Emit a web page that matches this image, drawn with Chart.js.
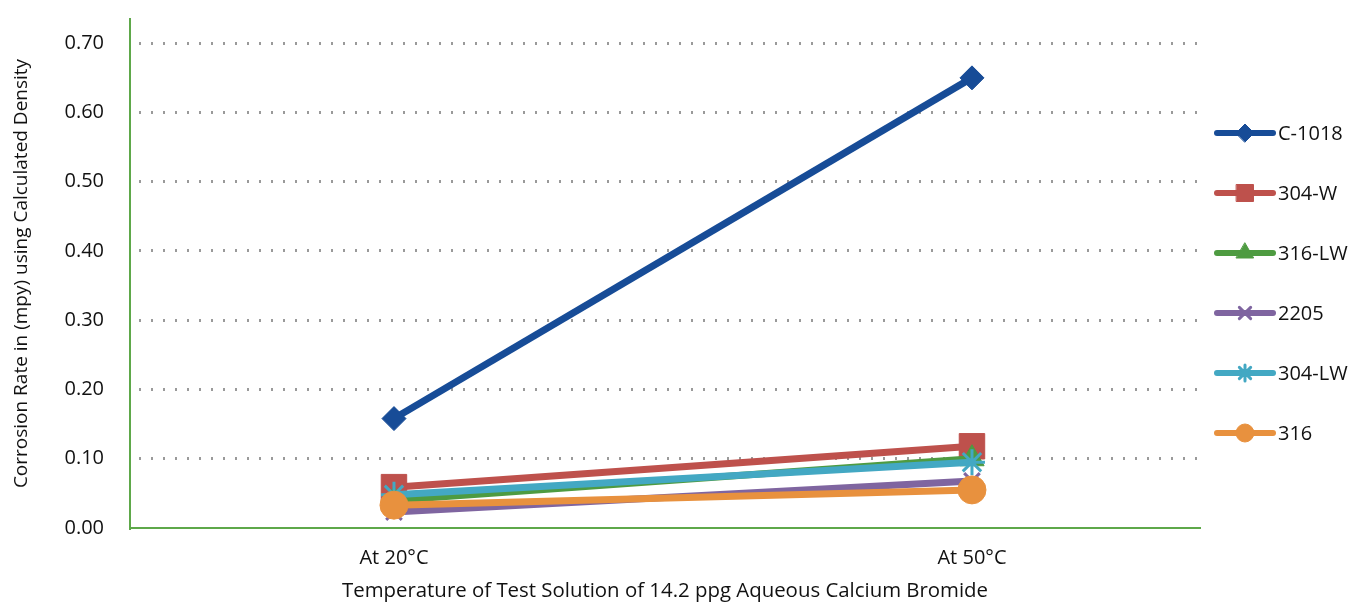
<!DOCTYPE html>
<html>
<head>
<meta charset="utf-8">
<script src="https://cdn.jsdelivr.net/npm/chart.js@4"></script>
<style>
html,body{margin:0;padding:0;background:#fff;}
#wrap{width:1366px;height:603px;position:relative;}
</style>
</head>
<body>
<div id="wrap"><canvas id="c" width="1366" height="603"></canvas></div>
<script>
const categories = ['At 20\u00B0C', 'At 50\u00B0C'];
const seriesNames = ['C-1018', '304-W', '316-LW', '2205', '304-LW', '316'];
const c1018 = [0.158, 0.650];
const w304 = [0.059, 0.118];
const lw316 = [0.040, 0.100];
const d2205 = [0.023, 0.068];
const lw304 = [0.048, 0.095];
const s316 = [0.033, 0.055];
const yTicks = [0, 0.1, 0.2, 0.3, 0.4, 0.5, 0.6, 0.7];

const seriesValues = [c1018, w304, lw316, d2205, lw304, s316];
const colors = ['#174C97', '#BE514C', '#4E9B41', '#7F65A0', '#43A8C3', '#E8913E'];
const styles = ['rectRot', 'rect', 'triangle', 'crossRot', 'star', 'circle'];
const radii = [12, 18, 14, 11, 13, 14];
const legRadii = [9, 12, 10, 8, 8, 9];

const FONT = '"Open Sans", "Noto Sans", sans-serif';

const datasets = seriesNames.map((name, i) => ({
  label: name,
  data: seriesValues[i].map((v, k) => ({x: k, y: v})),
  borderColor: colors[i],
  backgroundColor: colors[i],
  borderWidth: 7,
  pointStyle: styles[i],
  pointRadius: radii[i],
  pointHoverRadius: radii[i],
  pointBorderWidth: (styles[i] === 'crossRot' || styles[i] === 'star') ? 3 : 1,
  pointBorderColor: colors[i],
  pointBackgroundColor: colors[i],
  order: seriesNames.length - i,
  tension: 0,
  clip: false
}));

const legendPlugin = {
  id: 'customLegend',
  afterDraw(chart) {
    const ctx = chart.ctx;
    ctx.save();
    chart.data.datasets.forEach((ds, i) => {
      const y = 133 + i * 60;
      ctx.strokeStyle = ds.borderColor;
      ctx.lineWidth = 6;
      ctx.lineCap = 'round';
      ctx.beginPath();
      ctx.moveTo(1217, y);
      ctx.lineTo(1273, y);
      ctx.stroke();
      ctx.fillStyle = ds.backgroundColor;
      ctx.strokeStyle = ds.borderColor;
      ctx.lineWidth = ds.pointBorderWidth;
      Chart.helpers.drawPoint(ctx, {pointStyle: ds.pointStyle, radius: legRadii[i], rotation: 0, borderWidth: ds.pointBorderWidth}, 1245, y);
      ctx.fillStyle = '#111';
      ctx.font = '20px ' + FONT;
      ctx.textAlign = 'left';
      ctx.textBaseline = 'middle';
      ctx.fillText(ds.label, 1278, y + 1);
    });
    ctx.restore();
  }
};

new Chart(document.getElementById('c'), {
  type: 'line',
  data: { datasets },
  options: {
    responsive: false,
    animation: false,
    events: [],
    layout: { padding: { left: 6, top: 10, right: 166, bottom: 0 } },
    plugins: { legend: { display: false }, tooltip: { enabled: false } },
    scales: {
      x: {
        type: 'linear',
        min: -0.4567,
        max: 1.3945,
        afterBuildTicks(scale) { scale.ticks = categories.map((_, k) => ({value: k})); },
        afterFit(scale) { scale.height = 75; scale.paddingLeft = 0; scale.paddingRight = 0; },
        ticks: {
          callback: (v) => categories[v],
          font: { family: FONT, size: 20 },
          color: '#111',
          padding: 18,
          maxRotation: 0
        },
        grid: { display: false, drawTicks: false },
        border: { color: '#5EA84A', width: 2 },
        title: {
          display: true,
          text: 'Temperature of Test Solution of 14.2 ppg Aqueous Calcium Bromide',
          font: { family: FONT, size: 20.4 },
          color: '#111',
          padding: { top: 8, bottom: 0 }
        }
      },
      y: {
        min: 0,
        max: 0.735,
        afterBuildTicks(scale) { scale.ticks = yTicks.map(v => ({value: v})); },
        afterFit(scale) { scale.width = 124; scale.paddingTop = 0; scale.paddingBottom = 0; },
        ticks: {
          callback: (v) => v.toFixed(2),
          font: { family: FONT, size: 20 },
          color: '#111',
          padding: 26
        },
        grid: {
          drawTicks: false,
          color: (c) => (c.tick && c.tick.value > 0.001) ? '#9a9a9a' : 'rgba(0,0,0,0)',
          lineWidth: 3
        },
        border: { color: '#5EA84A', width: 2, dash: [2, 10], dashOffset: -8 },
        title: {
          display: true,
          text: 'Corrosion Rate in (mpy) using Calculated Density',
          font: { family: FONT, size: 19 },
          color: '#111',
          padding: { bottom: 8 }
        }
      }
    }
  },
  plugins: [legendPlugin]
});
</script>
</body>
</html>
